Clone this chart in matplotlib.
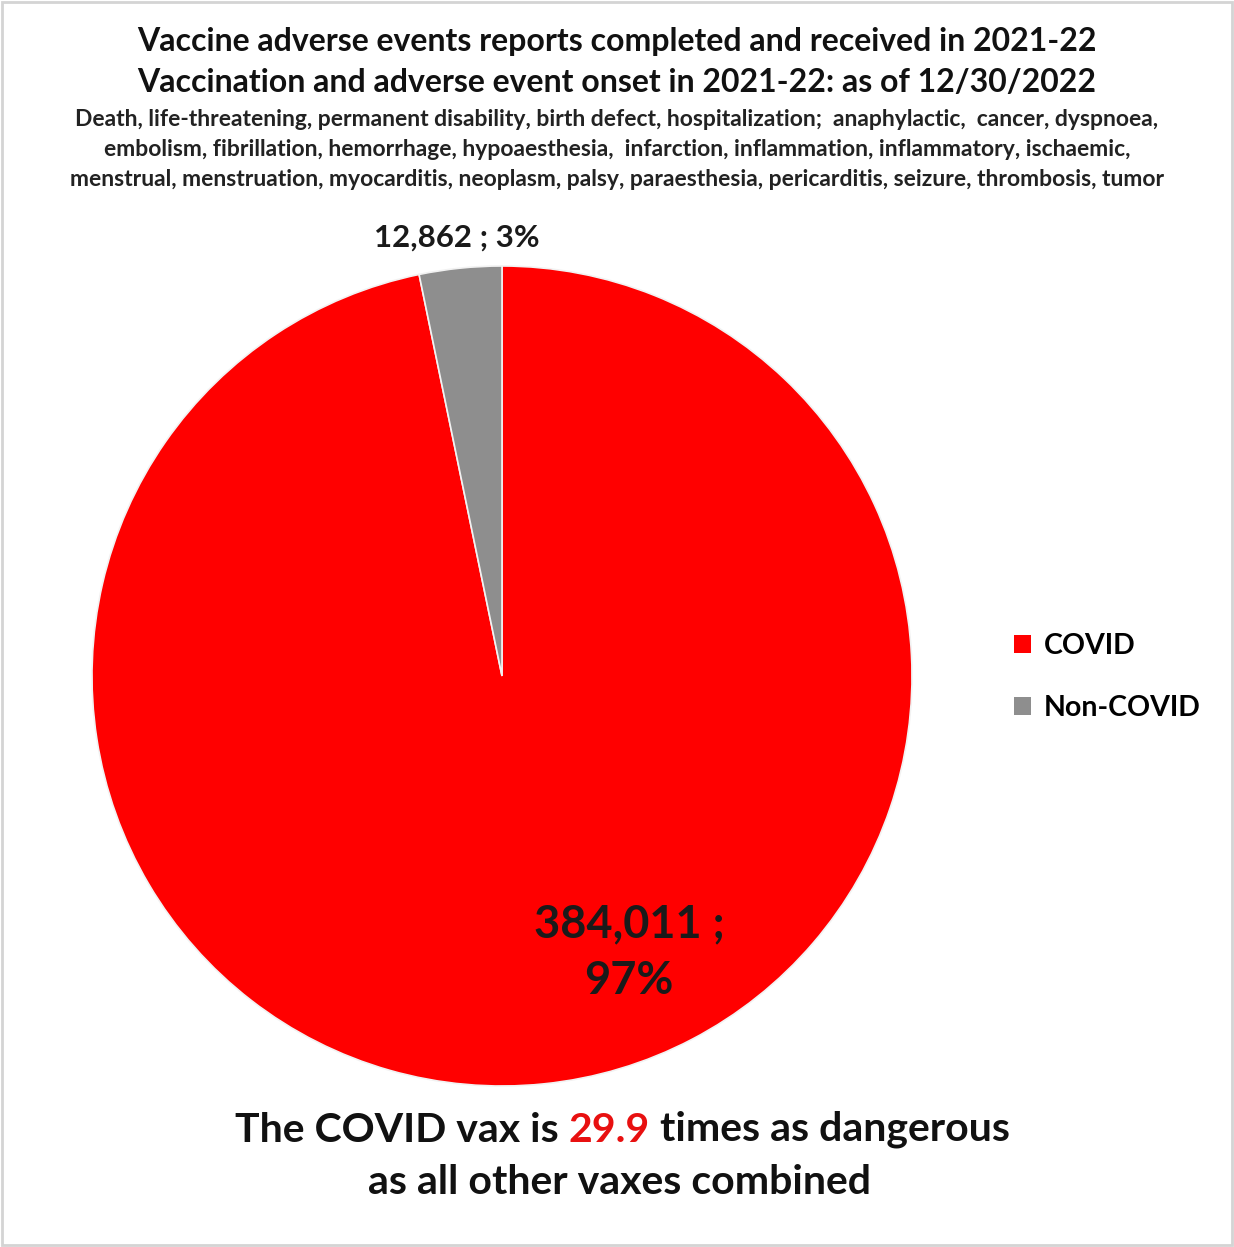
import matplotlib.pyplot as plt
from matplotlib.patches import Patch, Rectangle

plt.rcParams['font.family'] = ['Lato', 'DejaVu Sans']

categories = ['COVID', 'Non-COVID']
reports = [384011, 12862]
slice_labels = ['384,011 ;\n97%', '12,862 ; 3%']
colors = ['#ff0000', '#8e8e8e']

title_lines = [
    'Vaccine adverse events reports completed and received in 2021-22',
    'Vaccination and adverse event onset in 2021-22: as of 12/30/2022',
]
subtitle_lines = [
    'Death, life-threatening, permanent disability, birth defect, hospitalization;  anaphylactic,  cancer, dyspnoea,',
    'embolism, fibrillation, hemorrhage, hypoaesthesia,  infarction, inflammation, inflammatory, ischaemic,',
    'menstrual, menstruation, myocarditis, neoplasm, palsy, paraesthesia, pericarditis, seizure, thrombosis, tumor',
]
ratio_text = '29.9'

W, H = 1234, 1247
fig = plt.figure(figsize=(W / 100, H / 100), dpi=100)
fig.patches.append(Rectangle((0.002, 0.002), 0.996, 0.996, transform=fig.transFigure,
                             fill=False, edgecolor='#d4d4d4', linewidth=2))

# pie axes: centre (502, 676) px, radius 410 px
cx, cy, r = 502, 676, 410
ax = fig.add_axes([(cx - r) / W, (H - cy - r) / H, 2 * r / W, 2 * r / H])
wedges, _ = ax.pie(reports, colors=colors, startangle=90, counterclock=False,
                   wedgeprops=dict(edgecolor='#f2f2f2', linewidth=1.2))
ax.set_xlim(-1, 1)
ax.set_ylim(-1, 1)
ax.set_aspect('equal')
ax.axis('off')

ax.text(0.31, -0.675, slice_labels[0], ha='center', va='center', fontsize=32.5,
        fontweight='bold', color='#1a1a1a', linespacing=1.42)
ax.text(-0.11, 1.07, slice_labels[1], ha='center', va='center', fontsize=22.5,
        fontweight='bold', color='#1a1a1a')

# titles
fig.text(617 / W, 1 - 42 / H, title_lines[0], ha='center', va='center',
         fontsize=23, fontweight='bold', color='#111111')
fig.text(617 / W, 1 - 83 / H, title_lines[1], ha='center', va='center',
         fontsize=23, fontweight='bold', color='#111111')
for i, line in enumerate(subtitle_lines):
    fig.text(617 / W, 1 - (119 + 30 * i) / H, line, ha='center', va='center',
             fontsize=16.5, fontweight='bold', color='#222222')

# legend
handles = [Patch(facecolor=c, edgecolor='none') for c in colors]
fig.legend(handles, categories, loc='center left',
           bbox_to_anchor=(988 / W, 1 - 677 / H), frameon=False,
           handlelength=0.6, handleheight=0.6, handletextpad=0.45,
           labelspacing=1.25, prop={'weight': 'bold', 'size': 20.5})

# bottom statement with red number
fs = 29.5
t1 = fig.text(235 / W, 1 - 1130 / H, 'The COVID vax is ', ha='left', va='center',
              fontsize=fs, fontweight='bold', color='#111111')
fig.canvas.draw()
bb1 = t1.get_window_extent()
t2 = fig.text(bb1.x1 / W, bb1.y0 / H, ratio_text, ha='left', va='bottom',
              fontsize=fs, fontweight='bold', color='#e81010')
fig.canvas.draw()
bb2 = t2.get_window_extent()
fig.text(bb2.x1 / W, bb1.y0 / H, ' times as dangerous', ha='left', va='bottom',
         fontsize=fs, fontweight='bold', color='#111111')
fig.text(620 / W, 1 - 1183 / H, 'as all other vaxes combined', ha='center', va='center',
         fontsize=fs, fontweight='bold', color='#111111')

fig.savefig('out.png', dpi=100)
